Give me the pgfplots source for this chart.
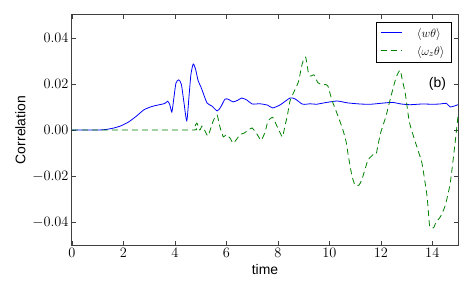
\documentclass[border=0pt]{standalone}
\usepackage{fontspec}
\setmainfont{Liberation Sans}
\usepackage{pgfplots}
\pgfplotsset{compat=1.18}
\definecolor{mplblue}{rgb}{0,0,1}
\definecolor{mplgreen}{rgb}{0,0.5,0}
\begin{document}
\begin{tikzpicture}
\begin{axis}[
  scale only axis, width=386bp, height=230bp,
  xmin=0, xmax=15, ymin=-0.05, ymax=0.05,
  xtick={0,2,...,14}, ytick={-0.04,-0.02,0,0.02,0.04},
  yticklabel style={/pgf/number format/.cd,fixed,fixed zerofill,precision=2},
  scaled y ticks=false,
  tick align=inside, xtick pos=both, ytick pos=both,
  axis line style={black!75, line width=1bp},
  major tick style={black!75, line width=0.6bp},
  major tick length=4bp,
  xlabel={time}, ylabel={Correlation},
  label style={font=\fontsize{14}{16}\selectfont},
  tick label style={font=\fontsize{14}{16}\selectfont},
  legend style={at={(0.984,0.97)}, anchor=north east, draw=black, line width=0.6bp,
    font=\fontsize{13}{15}\selectfont, row sep=3.5bp, column sep=12bp,
    inner xsep=5bp, inner ysep=4bp},
  legend cell align=left,
  legend image code/.code={\draw[#1, line width=1bp] (0bp,0.5bp) -- (21bp,0.5bp);},
]
\addplot[mplblue, line width=0.8bp, smooth, tension=0.4] coordinates {
(0,0) (1.0,0) (1.3,0.0002) (1.6,0.0008) (1.9,0.0018) (2.2,0.0035) (2.5,0.0060)
(2.8,0.0088) (3.1,0.0102) (3.4,0.0110) (3.6,0.0115) (3.72,0.0125) (3.8,0.0110)
(3.88,0.0078) (3.96,0.014) (4.04,0.0204) (4.15,0.0218) (4.25,0.0198) (4.35,0.012)
(4.46,0.004) (4.55,0.015) (4.62,0.024) (4.71,0.0287) (4.8,0.0265) (4.9,0.0215)
(5.0,0.019) (5.1,0.0160) (5.25,0.0117) (5.44,0.0104) (5.64,0.0083) (5.78,0.0100)
(5.95,0.0135) (6.1,0.0132) (6.26,0.0122) (6.45,0.0130) (6.6,0.0139) (6.8,0.0130)
(7.0,0.0113) (7.3,0.0114) (7.6,0.0108) (7.8,0.0096) (8.1,0.0110) (8.47,0.0139)
(8.67,0.0135) (8.94,0.0113) (9.1,0.0112) (9.25,0.0114) (9.5,0.0112) (9.8,0.0118)
(10.3,0.0126) (10.7,0.0118) (11.2,0.0113) (11.6,0.0112) (12.0,0.0116) (12.44,0.0120)
(12.8,0.0113) (13.14,0.0110) (13.6,0.0113) (14.0,0.0112) (14.3,0.0113) (14.55,0.0116)
(14.7,0.0100) (15,0.0110)
};
\addlegendentry{$\langle w\theta\rangle$}
\addplot[mplgreen, line width=0.8bp, dash pattern=on 6bp off 4bp, smooth, tension=0.3] coordinates {
(0,0) (4.66,0) (4.75,0.001) (4.85,0.003) (4.97,0.0) (5.05,0.0017) (5.15,0.000)
(5.28,-0.0026) (5.4,0.001) (5.5,0.0043) (5.64,0.0065) (5.75,0.0013) (5.88,-0.003)
(6.0,-0.002) (6.14,-0.0035) (6.26,-0.0057) (6.4,-0.004) (6.53,-0.002) (6.7,-0.0013)
(6.85,0.0) (7.0,0.0009) (7.1,-0.0005) (7.2,-0.002) (7.35,-0.0045) (7.5,-0.001)
(7.62,0.004) (7.8,0.0055) (7.95,0.002) (8.08,-0.001) (8.18,-0.003) (8.28,0.002)
(8.36,0.0057) (8.47,0.0125) (8.6,0.016) (8.8,0.021) (8.95,0.029) (9.08,0.0317)
(9.2,0.024) (9.3,0.0235) (9.4,0.024) (9.56,0.0205) (9.75,0.0196) (9.85,0.0198)
(9.95,0.019) (10.1,0.013) (10.35,0.0057) (10.53,0.0) (10.65,-0.005) (10.75,-0.012)
(10.88,-0.020) (11.0,-0.024) (11.15,-0.024) (11.25,-0.022) (11.35,-0.0185)
(11.5,-0.013) (11.6,-0.0118) (11.72,-0.0105) (11.82,-0.0105) (11.9,-0.006)
(12.0,-0.001) (12.2,0.006) (12.45,0.017) (12.6,0.023) (12.75,0.026) (12.85,0.021)
(12.95,0.016) (13.1,0.004) (13.25,-0.002) (13.45,-0.009) (13.6,-0.0144) (13.8,-0.029)
(13.9,-0.042) (14.05,-0.0425) (14.15,-0.040) (14.3,-0.038) (14.5,-0.033)
(14.7,-0.023) (14.9,-0.0043) (15.0,0.006)
};
\addlegendentry{$\langle \omega_z\theta\rangle$}
\node[font=\fontsize{14}{16}\selectfont] at (axis cs:14.2,0.020) {(b)};
\end{axis}
\pgfresetboundingbox
\path (current axis.south west) ++(-72bp,-51bp) rectangle ++(474bp,296bp);
\end{tikzpicture}
\end{document}
